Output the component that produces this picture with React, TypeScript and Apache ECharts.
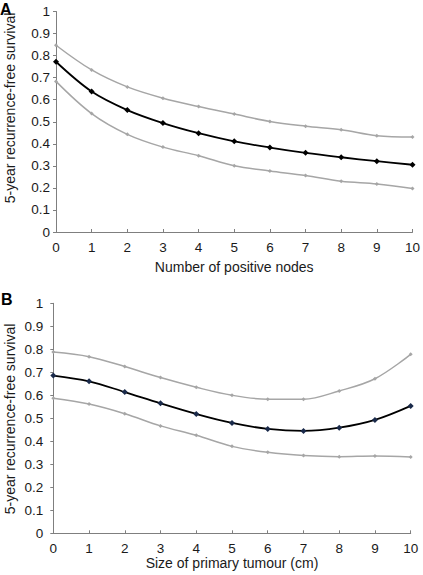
import React, { useEffect, useRef } from "react";
import * as echarts from "echarts";

const xValues = [0, 1, 2, 3, 4, 5, 6, 7, 8, 9, 10];
const yTicks = [0, 0.1, 0.2, 0.3, 0.4, 0.5, 0.6, 0.7, 0.8, 0.9, 1];

// Panel A: number of positive nodes
const nodesUpper = [0.847, 0.735, 0.658, 0.607, 0.569, 0.535, 0.501, 0.480, 0.464, 0.437, 0.431];
const nodesEstimate = [0.772, 0.637, 0.553, 0.494, 0.448, 0.411, 0.383, 0.359, 0.339, 0.321, 0.305];
const nodesLower = [0.683, 0.537, 0.443, 0.385, 0.346, 0.300, 0.277, 0.256, 0.230, 0.218, 0.197];

// Panel B: size of primary tumour (cm)
const sizeUpper = [0.788, 0.768, 0.725, 0.677, 0.635, 0.600, 0.583, 0.583, 0.619, 0.672, 0.778];
const sizeEstimate = [0.686, 0.661, 0.614, 0.565, 0.519, 0.480, 0.454, 0.445, 0.459, 0.493, 0.554];
const sizeLower = [0.587, 0.562, 0.520, 0.467, 0.426, 0.378, 0.352, 0.338, 0.333, 0.336, 0.332];

const FONT = "'Liberation Sans', Arial, Helvetica, sans-serif";
const GRAY = "#a6a6a6";
const AXIS = "#7f7f7f";
const Y_NAME = "5-year recurrence-free survival";

const pairs = (ys: number[]) => xValues.map((x, i) => [x, ys[i]]);

function makeX(gridIndex: number, name: string, nameGap: number) {
  return {
    type: "value",
    gridIndex,
    min: 0,
    max: 10,
    interval: 1,
    name,
    nameLocation: "middle",
    nameGap,
    nameTextStyle: { fontFamily: FONT, fontSize: 14, color: "#1a1a1a" },
    axisLine: { show: true, onZero: false, lineStyle: { color: AXIS, width: 1 } },
    axisTick: { show: true, inside: true, length: 3, lineStyle: { color: AXIS } },
    axisLabel: { fontFamily: FONT, fontSize: 13.5, color: "#1a1a1a", margin: 8 },
    splitLine: { show: false },
  };
}

function makeY(gridIndex: number, margin: number) {
  return {
    type: "value",
    gridIndex,
    min: 0,
    max: 1,
    interval: 0.1,
    axisLine: { show: true, lineStyle: { color: AXIS, width: 1 } },
    axisTick: { show: true, inside: false, length: 3, lineStyle: { color: AXIS } },
    axisLabel: {
      fontFamily: FONT,
      fontSize: 13.5,
      color: "#1a1a1a",
      margin,
      formatter: (v: number) => {
        const t = yTicks.find((k) => Math.abs(k - v) < 1e-6);
        return t === undefined ? "" : String(Math.round(t * 10) / 10);
      },
    },
    splitLine: { show: false },
  };
}

function line(xi: number, data: number[], color: string, markerColor: string, width: number, size: number) {
  return {
    type: "line",
    xAxisIndex: xi,
    yAxisIndex: xi,
    data: pairs(data),
    smooth: 0.35,
    symbol: "diamond",
    symbolSize: size,
    showSymbol: true,
    lineStyle: { color, width },
    itemStyle: { color: markerColor, borderWidth: 0 },
  };
}

function yName(x: number, y: number) {
  return {
    type: "text",
    x,
    y,
    rotation: Math.PI / 2,
    style: {
      text: Y_NAME,
      font: `14px ${FONT}`,
      fill: "#1a1a1a",
      textAlign: "center",
      textVerticalAlign: "middle",
    },
  };
}

export default function App() {
  const ref = useRef<HTMLDivElement>(null);
  useEffect(() => {
    if (!ref.current) return;
    const chart = echarts.init(ref.current, undefined, { renderer: "svg" });
    chart.setOption({
      animation: false,
      backgroundColor: "#ffffff",
      grid: [
        { left: 56, right: 8, top: 11.5, height: 220.5 },
        { left: 53.3, right: 12.3, top: 303.3, height: 230 },
      ],
      xAxis: [
        makeX(0, "Number of positive nodes", 28),
        makeX(1, "Size of primary tumour (cm)", 17),
      ],
      yAxis: [makeY(0, 6), makeY(1, 10)],
      graphic: [
        {
          type: "text",
          left: 0,
          top: 1,
          style: { text: "A", font: `bold 16px ${FONT}`, fill: "#000" },
        },
        {
          type: "text",
          left: 1,
          top: 291,
          style: { text: "B", font: `bold 16px ${FONT}`, fill: "#000" },
        },
        yName(10, 108),
        yName(10, 419),
      ],
      series: [
        line(0, nodesUpper, GRAY, GRAY, 1.5, 4),
        line(0, nodesLower, GRAY, GRAY, 1.5, 4),
        line(0, nodesEstimate, "#000000", "#000000", 1.8, 6),
        line(1, sizeUpper, GRAY, GRAY, 1.5, 4),
        line(1, sizeLower, GRAY, GRAY, 1.5, 4),
        line(1, sizeEstimate, "#000000", "#1a2a4a", 1.8, 6),
      ],
    });
    return () => chart.dispose();
  }, []);
  return (
    <div
      ref={ref}
      style={{ position: "fixed", left: 0, top: 0, width: 423, height: 575, background: "#fff" }}
    />
  );
}
